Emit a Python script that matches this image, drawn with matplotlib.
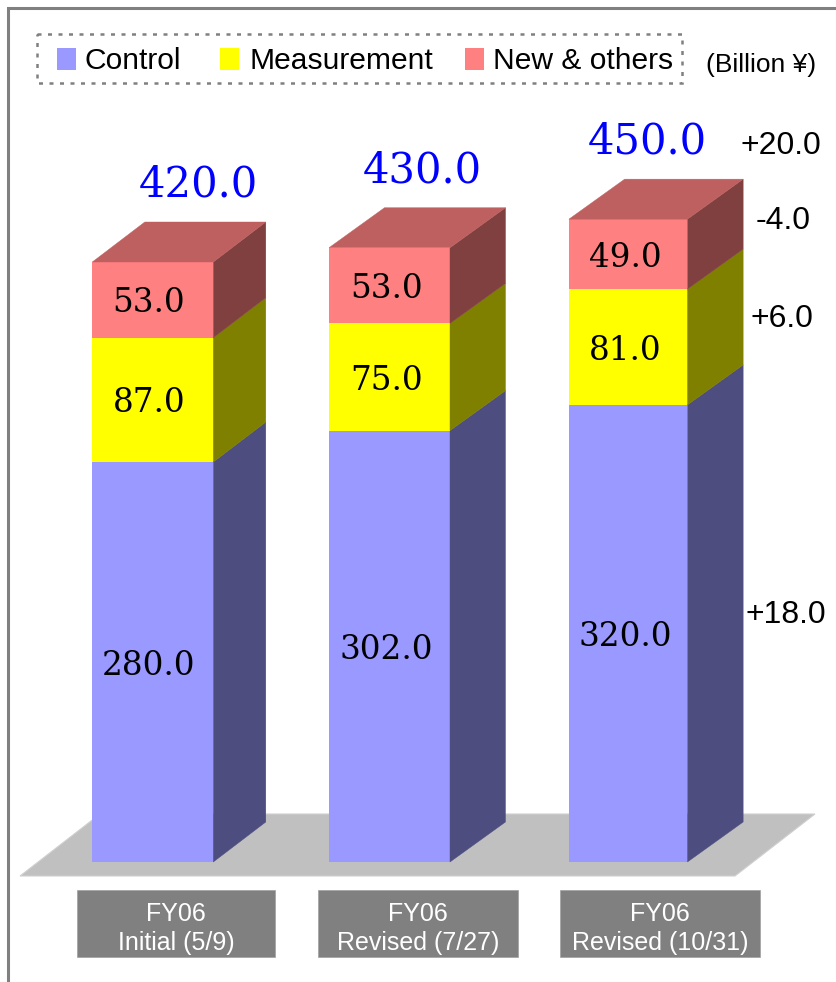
import numpy as np
import matplotlib
matplotlib.use('Agg')
import matplotlib.pyplot as plt
from matplotlib.patches import Polygon, Rectangle

# data
categories = ['FY06\nInitial (5/9)', 'FY06\nRevised (7/27)', 'FY06\nRevised (10/31)']
series_names = ['Control', 'Measurement', 'New & others']
control = [280.0, 302.0, 320.0]
measurement = [87.0, 75.0, 81.0]
new_others = [53.0, 53.0, 49.0]
totals = [420.0, 430.0, 450.0]
delta_labels = ['+18.0', '+6.0', '-4.0', '+20.0']

# colours
front = ['#9999FF', '#FFFF00', '#FF8080']
side = ['#4D4D80', '#808000', '#804040']
top_col = '#BF6060'
grey = '#808080'

# layout, in pixels of the 836x982 picture
W, H = 836, 982
base_px = 862
px_per_unit = 600 / 420
bar_x = [152.8, 389.5, 628.2]
bar_w = [121, 121, 118.5]
depth_x = [52.5, 55.5, 55.7]
depth_y = 40 / px_per_unit
total_dx = [46, 33, 19]
label_dx = [-4, -3, -3]
delta_y = [615, 319, 221, 146]
delta_x = [786, 782, 783, 781]
box_l = [77, 318, 560]
box_r = [275, 518, 760]

plt.rcParams['font.family'] = ['Liberation Sans', 'DejaVu Sans']
fig = plt.figure(figsize=(W / 100, H / 100), dpi=100)

# pixel axes for the decoration, value axes for the bars
deco = fig.add_axes([0, 0, 1, 1], zorder=1)
deco.set_xlim(0, W)
deco.set_ylim(H, 0)
deco.axis('off')

ax = fig.add_axes([0, 0, 1, 1], zorder=2)
ax.set_xlim(0, W)
ax.set_ylim(-(H - base_px) / px_per_unit, base_px / px_per_unit)
ax.axis('off')
ax.patch.set_alpha(0)

# frame
deco.plot([7.5, 7.5, W], [H, 7.5, 7.5], color=grey, lw=2.2, solid_joinstyle='miter')

# floor
deco.add_patch(Polygon([(20, 876), (735, 876), (815, 814), (100, 814)], closed=True,
                       facecolor='#C0C0C0', edgecolor='#D0D0D0', lw=0.8))

# bars
series = [control, measurement, new_others]
bottom = np.zeros(3)
for s, vals in enumerate(series):
    ax.bar(bar_x, vals, width=bar_w, bottom=bottom, color=front[s], linewidth=0, zorder=3)
    for i, v in enumerate(vals):
        r = bar_x[i] + bar_w[i] / 2
        dx = depth_x[i]
        ax.add_patch(Polygon([(r, bottom[i]), (r + dx, bottom[i] + depth_y),
                              (r + dx, bottom[i] + v + depth_y), (r, bottom[i] + v)],
                             closed=True, facecolor=side[s], edgecolor=side[s], lw=0.3, zorder=3))
        ax.text(bar_x[i] + label_dx[i], bottom[i] + v / 2 - 2.5, '%.1f' % v, ha='center', va='center',
                fontsize=23.5, family='DejaVu Serif', color='black', zorder=4)
    bottom = bottom + np.array(vals)

# top faces and totals
for i, t in enumerate(totals):
    l = bar_x[i] - bar_w[i] / 2
    r = bar_x[i] + bar_w[i] / 2
    dx = depth_x[i]
    ax.add_patch(Polygon([(l, t), (r, t), (r + dx, t + depth_y), (l + dx, t + depth_y)],
                         closed=True, facecolor=top_col, edgecolor=top_col, lw=0.3, zorder=3))
    ax.text(bar_x[i] + total_dx[i], t + 54, '%.1f' % t, ha='center', va='center',
            fontsize=30, family='DejaVu Serif', color='#0000FF', zorder=4)

# change labels on the right
for lab, x, y in zip(delta_labels, delta_x, delta_y):
    deco.text(x, y, lab, ha='center', va='center', fontsize=23, color='black')

# legend drawn by hand, it sits in a dotted box
deco.add_patch(Rectangle((37, 34), 645, 49, fill=False, edgecolor=grey, lw=1.8,
                         linestyle=(0, (1.6, 2.6))))
swatch_x = [57, 220, 465]
text_x = [85, 250, 493]
for name, c, sx, tx in zip(series_names, front, swatch_x, text_x):
    deco.add_patch(Rectangle((sx, 48), 19, 22, facecolor=c, edgecolor='none'))
    deco.text(tx, 61, name, ha='left', va='center', fontsize=21.6, color='black')
deco.text(761, 65, '(Billion \u00a5)', ha='center', va='center', fontsize=19, color='black')

# category boxes
for lab, l, r in zip(categories, box_l, box_r):
    deco.add_patch(Rectangle((l, 890), r - l, 67, facecolor=grey, edgecolor='#A0A0A0', lw=0.5))
    first, second = lab.split('\n')
    mid = (l + r) / 2
    deco.text(mid, 914, first, ha='center', va='center', fontsize=18, color='white')
    deco.text(mid, 943, second, ha='center', va='center', fontsize=18, color='white')

fig.savefig('out.png', dpi=100)
